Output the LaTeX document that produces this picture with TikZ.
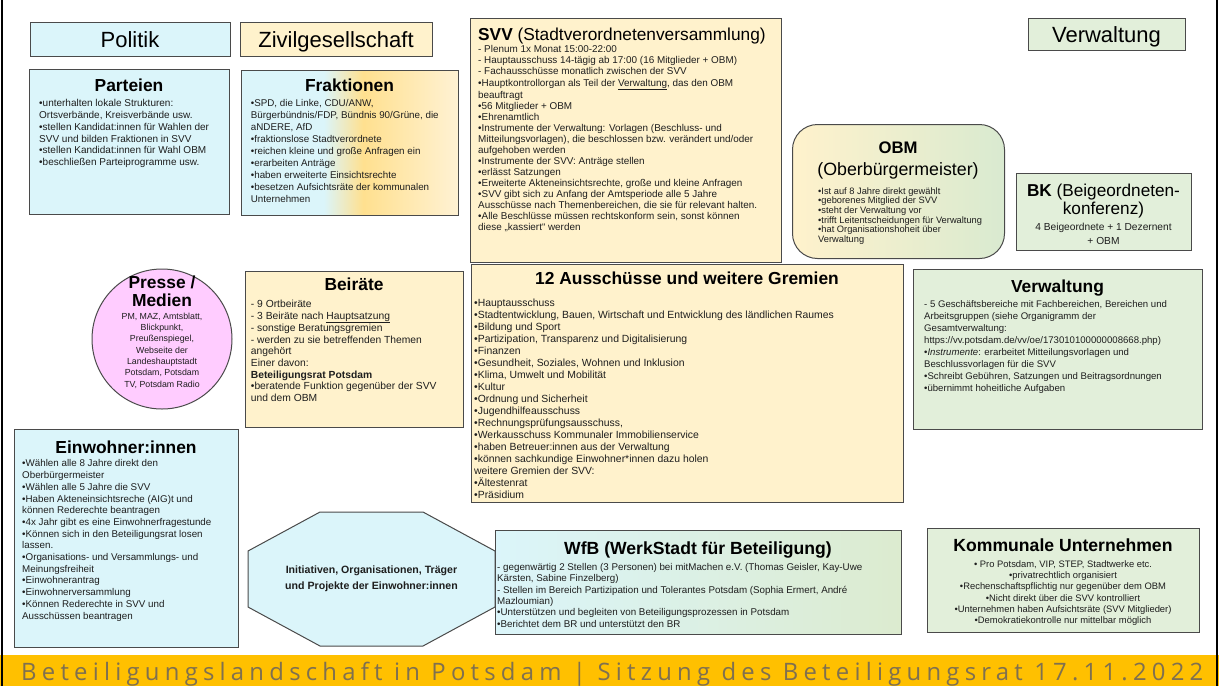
\documentclass[tikz,border=0pt]{standalone}
\usepackage{fontspec}
\usepackage{graphicx}
\setmainfont{Liberation Sans}
\newfontfamily\footfont[LetterSpace=18,FakeStretch=0.82]{Open Sans}
\usetikzlibrary{calc}
\definecolor{cyanbox}{HTML}{DBF5FA}
\definecolor{creambox}{HTML}{FFF2CC}
\definecolor{greenbox}{HTML}{E2EFDA}
\definecolor{pinkbox}{HTML}{FFCCFF}
\definecolor{frakmid}{HTML}{FFE08F}
\definecolor{frakright}{HTML}{FFF2D4}
\definecolor{obmgreen}{HTML}{D9EAD0}
\definecolor{wfbgreen}{HTML}{DCEBCF}
\definecolor{footbg}{HTML}{FFC000}
\definecolor{foottx}{HTML}{7F7050}
\definecolor{edge}{HTML}{4A4A4A}
\definecolor{txt}{HTML}{1E1E1E}
\pgfdeclarehorizontalshading{frakshade}{100bp}{color(0bp)=(cyanbox); color(25bp)=(cyanbox); color(44bp)=(cyanbox); color(53bp)=(frakmid); color(75bp)=(frakright); color(100bp)=(frakright)}
\newcommand{\fsz}[2]{\fontsize{#1}{#2}\selectfont}
\begin{document}
\begin{tikzpicture}[x=1pt, y=-1pt,
  box/.style={draw=edge, line width=1pt, rectangle, inner sep=0pt, anchor=north west},
  hd/.style={anchor=base, inner sep=0pt, font=\fsz{17.4}{19}\bfseries},
  bd/.style={anchor=north west, align=left, inner sep=0pt, text=txt},
  cbd/.style={anchor=north, align=center, inner sep=0pt, text=txt},
  toptitle/.style={anchor=base, inner sep=0pt, font=\fsz{22}{25}},
]
\useasboundingbox (0,0) rectangle (1219,686);
\fill[white] (0,0) rectangle (1219,686);

% column headers
\node[box, fill=cyanbox, minimum width=200pt, minimum height=34pt] (politikbox) at (30,22) {};
\node[toptitle] (politik) at (130,47) {Politik};
\node[box, fill=creambox, minimum width=192pt, minimum height=34pt] (zivilbox) at (240,22) {};
\node[toptitle] (zivil) at (336,47) {Zivilgesellschaft};
\node[box, fill=greenbox, minimum width=157pt, minimum height=32pt] (verwtopbox) at (1028,18) {};
\node[toptitle] (verwtop) at (1106.5,42) {Verwaltung};

% Parteien
\node[box, fill=cyanbox, minimum width=200pt, minimum height=145pt] (parteien) at (29,69) {};
\node[hd] (parteienhd) at (129,91) {Parteien};
\node[bd, font=\fsz{10}{11.9}] (parteientx) at (39,98.9) {•unterhalten lokale Strukturen:\\Ortsverbände, Kreisverbände usw.\\•stellen Kandidat:innen für Wahlen der\\SVV und bilden Fraktionen in SVV\\•stellen Kandidat:innen für Wahl OBM\\•beschließen Parteiprogramme usw.};

% Fraktionen
\node[box, shade, shading=frakshade, minimum width=217pt, minimum height=145pt] (frakt) at (241,70) {};
\node[hd] (frakthd) at (349.5,91) {Fraktionen};
\node[bd, font=\fsz{9.8}{12}] (frakttx) at (250.7,99) {•SPD, die Linke, CDU/ANW,\\Bürgerbündnis/FDP, Bündnis 90/Grüne, die\\aNDERE, AfD\\•fraktionslose Stadtverordnete\\•reichen kleine und große Anfragen ein\\•erarbeiten Anträge\\•haben erweiterte Einsichtsrechte\\•besetzen Aufsichtsräte der kommunalen\\Unternehmen};

% SVV
\node[box, fill=creambox, minimum width=311pt, minimum height=244pt] (svv) at (470,18) {};
\node[anchor=base west, inner sep=0pt, font=\fsz{17.3}{19}] (svvhd) at (478,40) {\textbf{SVV} (Stadtverordnetenversammlung)};
\node[bd, font=\fsz{9.9}{11.05}] (svvtx) at (478,45.5) {- Plenum 1x Monat 15:00-22:00\\- Hauptausschuss 14-tägig ab 17:00 (16 Mitglieder + OBM)\\- Fachausschüsse monatlich zwischen der SVV\\•Hauptkontrollorgan als Teil der \underline{Verwaltung}, das den OBM\\beauftragt\\•56 Mitglieder + OBM\\•Ehrenamtlich\\•Instrumente der Verwaltung: Vorlagen (Beschluss- und\\Mitteilungsvorlagen), die beschlossen bzw. verändert und/oder\\aufgehoben werden\\•Instrumente der SVV: Anträge stellen\\•erlässt Satzungen\\•Erweiterte Akteneinsichtsrechte, große und kleine Anfragen\\•SVV gibt sich zu Anfang der Amtsperiode alle 5 Jahre\\Ausschüsse nach Themenbereichen, die sie für relevant halten.\\•Alle Beschlüsse müssen rechtskonform sein, sonst können\\diese „kassiert“ werden};

% OBM
\node[box, rounded corners=25pt, left color=creambox, right color=obmgreen, minimum width=212pt, minimum height=134pt] (obm) at (792,124) {};
\node[hd, font=\fsz{16.7}{19}\bfseries] (obmhd) at (898,153) {OBM};
\node[anchor=base, inner sep=0pt, font=\fsz{17.8}{20}] (obmsub) at (898,175.5) {(Oberbürgermeister)};
\node[bd, font=\fsz{9.3}{9.6}] (obmtx) at (818,187.4) {•Ist auf 8 Jahre direkt gewählt\\•geborenes Mitglied der SVV\\•steht der Verwaltung vor\\•trifft Leitentscheidungen für Verwaltung\\•hat Organisationshoheit über\\Verwaltung};

% BK
\node[box, fill=greenbox, minimum width=175pt, minimum height=77pt] (bk) at (1016,173) {};
\node[anchor=base, inner sep=0pt, font=\fsz{17.2}{19}] (bkhd1) at (1103.5,196) {\textbf{BK} (Beigeordneten-};
\node[anchor=base, inner sep=0pt, font=\fsz{17.2}{19}] (bkhd2) at (1103.5,214) {konferenz)};
\node[anchor=base, inner sep=0pt, font=\fsz{10.2}{12}, text=txt] (bktx1) at (1103.5,230.6) {4 Beigeordnete + 1 Dezernent};
\node[anchor=base, inner sep=0pt, font=\fsz{10.2}{12}, text=txt] (bktx2) at (1103.5,244.6) {+ OBM};

% Presse
\node[circle, draw=edge, line width=1pt, fill=pinkbox, minimum size=140pt, inner sep=0pt] (presse) at (162,339) {};
\node[hd] (pressehd1) at (162,288) {Presse /};
\node[hd] (pressehd2) at (162,306.3) {Medien};
\node[cbd, font=\fsz{8.8}{11.3}] (pressetx) at (162,312.7) {PM, MAZ, Amtsblatt,\\Blickpunkt,\\Preußenspiegel,\\Webseite der\\Landeshauptstadt\\Potsdam, Potsdam\\TV, Potsdam Radio};

% Beiraete
\node[box, fill=creambox, minimum width=218pt, minimum height=156pt] (beirat) at (245,271) {};
\node[hd] (beirathd) at (354,290) {Beiräte};
\node[bd, font=\fsz{10.3}{11.6}] (beirattx) at (250.7,299.8) {- 9 Ortbeiräte\\- 3 Beiräte nach \underline{Hauptsatzung}\\- sonstige Beratungsgremien\\- werden zu sie betreffenden Themen\\angehört\\Einer davon:\\\textbf{Beteiligungsrat Potsdam}\\•beratende Funktion gegenüber der SVV\\und dem OBM};

% Ausschuesse
\node[box, fill=creambox, minimum width=432pt, minimum height=238pt] (aussch) at (471,264) {};
\node[hd] (ausschhd) at (687,284) {12 Ausschüsse und weitere Gremien};
\node[bd, font=\fsz{10.4}{12}] (ausschtx) at (474,299) {•Hauptausschuss\\•Stadtentwicklung, Bauen, Wirtschaft und Entwicklung des ländlichen Raumes\\•Bildung und Sport\\•Partizipation, Transparenz und Digitalisierung\\•Finanzen\\•Gesundheit, Soziales, Wohnen und Inklusion\\•Klima, Umwelt und Mobilität\\•Kultur\\•Ordnung und Sicherheit\\•Jugendhilfeausschuss\\•Rechnungsprüfungsausschuss,\\•Werkausschuss Kommunaler Immobilienservice\\•haben Betreuer:innen aus der Verwaltung\\•können sachkundige Einwohner*innen dazu holen\\weitere Gremien der SVV:\\•Ältestenrat\\•Präsidium};

% Verwaltung
\node[box, fill=greenbox, minimum width=289pt, minimum height=160pt] (verw) at (913,269) {};
\node[hd] (verwhd) at (1057.5,292) {Verwaltung};
\node[bd, font=\fsz{9.6}{12}] (verwtx) at (924,300) {- 5 Geschäftsbereiche mit Fachbereichen, Bereichen und\\Arbeitsgruppen (siehe Organigramm der\\Gesamtverwaltung:\\https://vv.potsdam.de/vv/oe/173010100000008668.php)\\•\textit{Instrumente}: erarbeitet Mitteilungsvorlagen und\\Beschlussvorlagen für die SVV\\•Schreibt Gebühren, Satzungen und Beitragsordnungen\\•übernimmt hoheitliche Aufgaben};

% Einwohner
\node[box, fill=cyanbox, minimum width=224pt, minimum height=218pt] (einw) at (14,429) {};
\node[hd] (einwhd) at (126,453) {Einwohner:innen};
\node[bd, font=\fsz{9.8}{11.7}] (einwtx) at (22,459.6) {•Wählen alle 8 Jahre direkt den\\Oberbürgermeister\\•Wählen alle 5 Jahre die SVV\\•Haben Akteneinsichtsreche (AIG)t und\\können Rederechte beantragen\\•4x Jahr gibt es eine Einwohnerfragestunde\\•Können sich in den Beteiligungsrat losen\\lassen.\\•Organisations- und Versammlungs- und\\Meinungsfreiheit\\•Einwohnerantrag\\•Einwohnerversammlung\\•Können Rederechte in SVV und\\Ausschüssen beantragen};

% Initiativen octagon
\draw[draw=edge, line width=1pt, fill=cyanbox] (320,512) -- (423,512) -- (495,551) -- (495,607) -- (423,646) -- (320,646) -- (248,607) -- (248,551) -- cycle;
\node[align=center, inner sep=0pt, font=\fsz{10.6}{16}\bfseries, text=txt] (initiativen) at (371.5,579) {Initiativen, Organisationen, Träger\\und Projekte der Einwohner:innen};

% WfB
\node[box, left color=cyanbox, right color=wfbgreen, minimum width=406pt, minimum height=104pt] (wfb) at (495,530) {};
\node[hd, font=\fsz{17.6}{19}\bfseries] (wfbhd) at (698,554) {WfB (WerkStadt für Beteiligung)};
\node[bd, font=\fsz{9.8}{11.3}] (wfbtx) at (497,563.3) {- gegenwärtig 2 Stellen (3 Personen) bei mitMachen e.V. (Thomas Geisler, Kay-Uwe\\Kärsten, Sabine Finzelberg)\\- Stellen im Bereich Partizipation und Tolerantes Potsdam (Sophia Ermert, André\\Mazloumian)\\•Unterstützen und begleiten von Beteiligungsprozessen in Potsdam\\•Berichtet dem BR und unterstützt den BR};

% Kommunale Unternehmen
\node[box, fill=greenbox, minimum width=272pt, minimum height=104pt] (komm) at (927,528) {};
\node[hd, font=\fsz{17.6}{19}\bfseries] (kommhd) at (1063,551) {Kommunale Unternehmen};
\node[cbd, font=\fsz{9.4}{11.3}] (kommtx) at (1063,560.1) {• Pro Potsdam, VIP, STEP, Stadtwerke etc.\\•privatrechtlich organisiert\\•Rechenschaftspflichtig nur gegenüber dem OBM\\•Nicht direkt über die SVV kontrolliert\\•Unternehmen haben Aufsichtsräte (SVV Mitglieder)\\•Demokratiekontrolle nur mittelbar möglich};

% footer
\fill[footbg] (0,655) rectangle (1219,686);
\node[anchor=base west, inner sep=0pt, text=foottx] (footer) at (21,680) {\resizebox{1182pt}{\height}{\footfont\fsz{24}{26}Beteiligungslandschaft in Potsdam | Sitzung des Beteiligungsrat 17.11.2022}};

% slide frame
\draw[black, line width=1.5pt] (2,0) -- (2,686);
\draw[black, line width=1.5pt] (1217,0) -- (1217,686);
\end{tikzpicture}
\end{document}
